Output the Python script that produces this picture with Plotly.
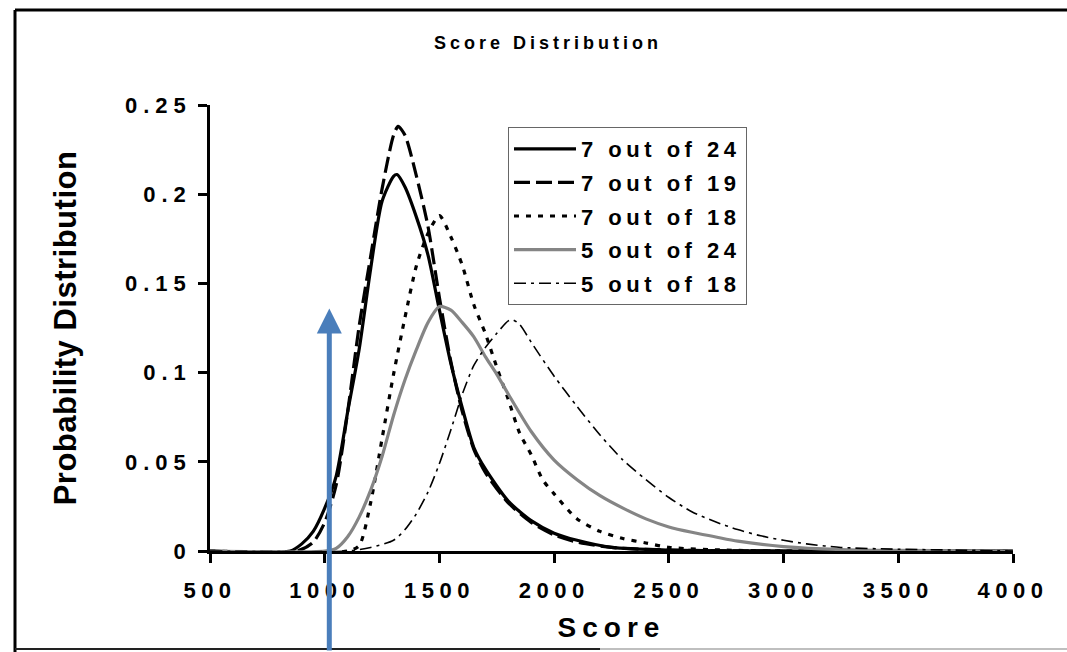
import plotly.graph_objects as go

# ---------------- data ----------------
series_names = ["7 out of 24", "7 out of 19", "7 out of 18", "5 out of 24", "5 out of 18"]

x_7of24 = [500, 850, 900, 950, 1000, 1050, 1100, 1150, 1200, 1250, 1300, 1315, 1350, 1400,
           1450, 1500, 1550, 1600, 1650, 1700, 1800, 1900, 2000, 2100, 2250, 2500, 3000, 4000]
y_7of24 = [0, 0, 0.004, 0.011, 0.024, 0.042, 0.078, 0.113, 0.158, 0.196, 0.210, 0.211, 0.204, 0.187,
           0.166, 0.135, 0.105, 0.080, 0.058, 0.046, 0.028, 0.017, 0.010, 0.006, 0.002, 0.0005, 0, 0]

x_7of19 = [500, 880, 950, 1000, 1050, 1100, 1150, 1200, 1250, 1300, 1320, 1350, 1400, 1450,
           1500, 1550, 1600, 1650, 1700, 1800, 1900, 2000, 2100, 2250, 2500, 3000, 4000]
y_7of19 = [0, 0, 0.005, 0.016, 0.037, 0.078, 0.126, 0.165, 0.203, 0.233, 0.238, 0.233, 0.210, 0.182,
           0.142, 0.106, 0.078, 0.057, 0.044, 0.027, 0.016, 0.009, 0.005, 0.002, 0.0005, 0, 0]

x_7of18 = [500, 1100, 1150, 1200, 1250, 1300, 1350, 1400, 1450, 1500, 1550, 1600, 1650, 1700,
           1750, 1800, 1850, 1900, 1950, 2000, 2100, 2200, 2300, 2400, 2500, 2750, 3000, 4000]
y_7of18 = [0, 0, 0.003, 0.027, 0.063, 0.099, 0.131, 0.160, 0.178, 0.188, 0.176, 0.160, 0.138, 0.122,
           0.103, 0.085, 0.066, 0.054, 0.040, 0.032, 0.018, 0.011, 0.007, 0.0045, 0.002, 0.0005, 0, 0]

x_5of24 = [500, 1000, 1050, 1100, 1150, 1200, 1250, 1300, 1350, 1400, 1450, 1500, 1550, 1600,
           1650, 1700, 1750, 1800, 1900, 2000, 2100, 2200, 2300, 2400, 2500, 2600, 2700, 2800,
           3000, 3250, 3500, 4000]
y_5of24 = [0, 0, 0.0015, 0.008, 0.019, 0.034, 0.053, 0.076, 0.096, 0.113, 0.128, 0.137, 0.135, 0.128,
           0.120, 0.109, 0.099, 0.088, 0.067, 0.051, 0.040, 0.031, 0.024, 0.018, 0.0135, 0.0105,
           0.008, 0.0055, 0.0025, 0.0008, 0.0003, 0]

x_5of18 = [500, 1100, 1200, 1300, 1350, 1400, 1450, 1500, 1550, 1600, 1650, 1700, 1750, 1800,
           1820, 1850, 1900, 2000, 2100, 2200, 2300, 2400, 2500, 2600, 2700, 2800, 2900, 3000,
           3100, 3250, 3500, 3750, 4000]
y_5of18 = [0, 0, 0.002, 0.006, 0.012, 0.021, 0.033, 0.049, 0.068, 0.088, 0.104, 0.114, 0.122, 0.129,
           0.1295, 0.127, 0.117, 0.098, 0.081, 0.065, 0.051, 0.040, 0.030, 0.022, 0.0165, 0.012,
           0.0085, 0.006, 0.004, 0.002, 0.001, 0.0005, 0]

x_tick_vals = [500, 1000, 1500, 2000, 2500, 3000, 3500, 4000]
x_tick_labels = ["500", "1000", "1500", "2000", "2500", "3000", "3500", "4000"]
y_tick_vals = [0, 0.05, 0.1, 0.15, 0.2, 0.25]
y_tick_labels = ["0", "0.05", "0.1", "0.15", "0.2", "0.25"]

arrow_score = 1020
arrow_tip = 0.136

# ---------------- styling ----------------
FONT = "Liberation Sans, Arial, Helvetica, sans-serif"


def spaced(text, px):
    return f'<span style="letter-spacing:{px}px">{text}</span>'


xs = [x_7of24, x_7of19, x_7of18, x_5of24, x_5of18]
ys = [y_7of24, y_7of19, y_7of18, y_5of24, y_5of18]
styles = [
    dict(color="#000000", width=3.2, dash="solid"),
    dict(color="#000000", width=3.2, dash="16px,6px"),
    dict(color="#000000", width=3.2, dash="5px,7px"),
    dict(color="#858585", width=3.2, dash="solid"),
    dict(color="#000000", width=1.6, dash="12px,5px,3px,5px"),
]

fig = go.Figure()
for i, name in enumerate(series_names):
    fig.add_trace(go.Scatter(
        x=xs[i], y=ys[i], mode="lines", name=spaced(name, 4.5),
        legendgroup=f"g{i}",
        line=dict(shape="spline", smoothing=0.7, **styles[i]),
    ))

# figure frame (left, top, bottom edges of the scanned page)
L, R, T, B = 210, 1067 - 54, 105, 652 - 101
W, H = R - L, B - T


def px_x(p):
    return (p - L) / W


def px_y(p):
    return (B - p) / H


frame = [
    (15, 10, 15, 652, "#000000", 3),
    (15, 10, 1067, 10, "#000000", 3),
    (15, 649, 600, 649, "#222222", 2),
    (600, 649, 1067, 649, "#aaaaaa", 1.5),
]
shapes = []
for x0, y0, x1, y1, c, w in frame:
    shapes.append(dict(type="line", xref="paper", yref="paper",
                       x0=px_x(x0), y0=px_y(y0), x1=px_x(x1), y1=px_y(y1),
                       line=dict(color=c, width=w)))

fig.update_layout(
    width=1067, height=652,
    margin=dict(l=L, r=1067 - R, t=T, b=652 - B),
    paper_bgcolor="white", plot_bgcolor="white",
    font=dict(family=FONT, color="black", size=18, weight="bold"),
    title=dict(text=spaced("Score Distribution", 4), x=548 / 1067, xanchor="center",
               y=1 - 43 / 652, yanchor="middle",
               font=dict(size=18, family=FONT, weight="bold")),
    showlegend=True,
    legend=dict(x=px_x(508), y=px_y(127), xanchor="left", yanchor="top",
                bgcolor="white", bordercolor="#666666", borderwidth=1,
                font=dict(size=22, family=FONT, weight="bold"),
                traceorder="grouped", tracegroupgap=2, itemwidth=62),
    shapes=shapes,
    annotations=[dict(x=arrow_score, y=arrow_tip, xref="x", yref="y", text="",
                      showarrow=True, ax=0, ay=345, axref="pixel", ayref="pixel",
                      arrowcolor="#4a7ebb", arrowwidth=5, arrowhead=2, arrowsize=1.0,
                      standoff=0)],
)

fig.update_xaxes(
    range=[500, 4000], tickvals=x_tick_vals,
    ticktext=[spaced(t, 5.5) for t in x_tick_labels],
    ticks="outside", ticklen=9, tickwidth=2.5, tickcolor="black",
    showline=True, linewidth=2.5, linecolor="black", showgrid=False, zeroline=False,
    tickfont=dict(size=22, family=FONT, weight="bold"), ticklabelstandoff=9,
    title=dict(text=spaced("Score", 6), font=dict(size=28, family=FONT, weight="bold"),
               standoff=16),
)
fig.update_yaxes(
    range=[0, 0.25], tickvals=y_tick_vals,
    ticktext=[spaced(t, 6) for t in y_tick_labels],
    ticks="outside", ticklen=9, tickwidth=2.5, tickcolor="black",
    showline=True, linewidth=2.5, linecolor="black", showgrid=False, zeroline=False,
    tickfont=dict(size=22, family=FONT, weight="bold"), ticklabelstandoff=2,
    title=dict(text=spaced("Probability Distribution", 0.5),
               font=dict(size=31, family=FONT, weight="bold"), standoff=40),
)

fig.write_html("out.html")
